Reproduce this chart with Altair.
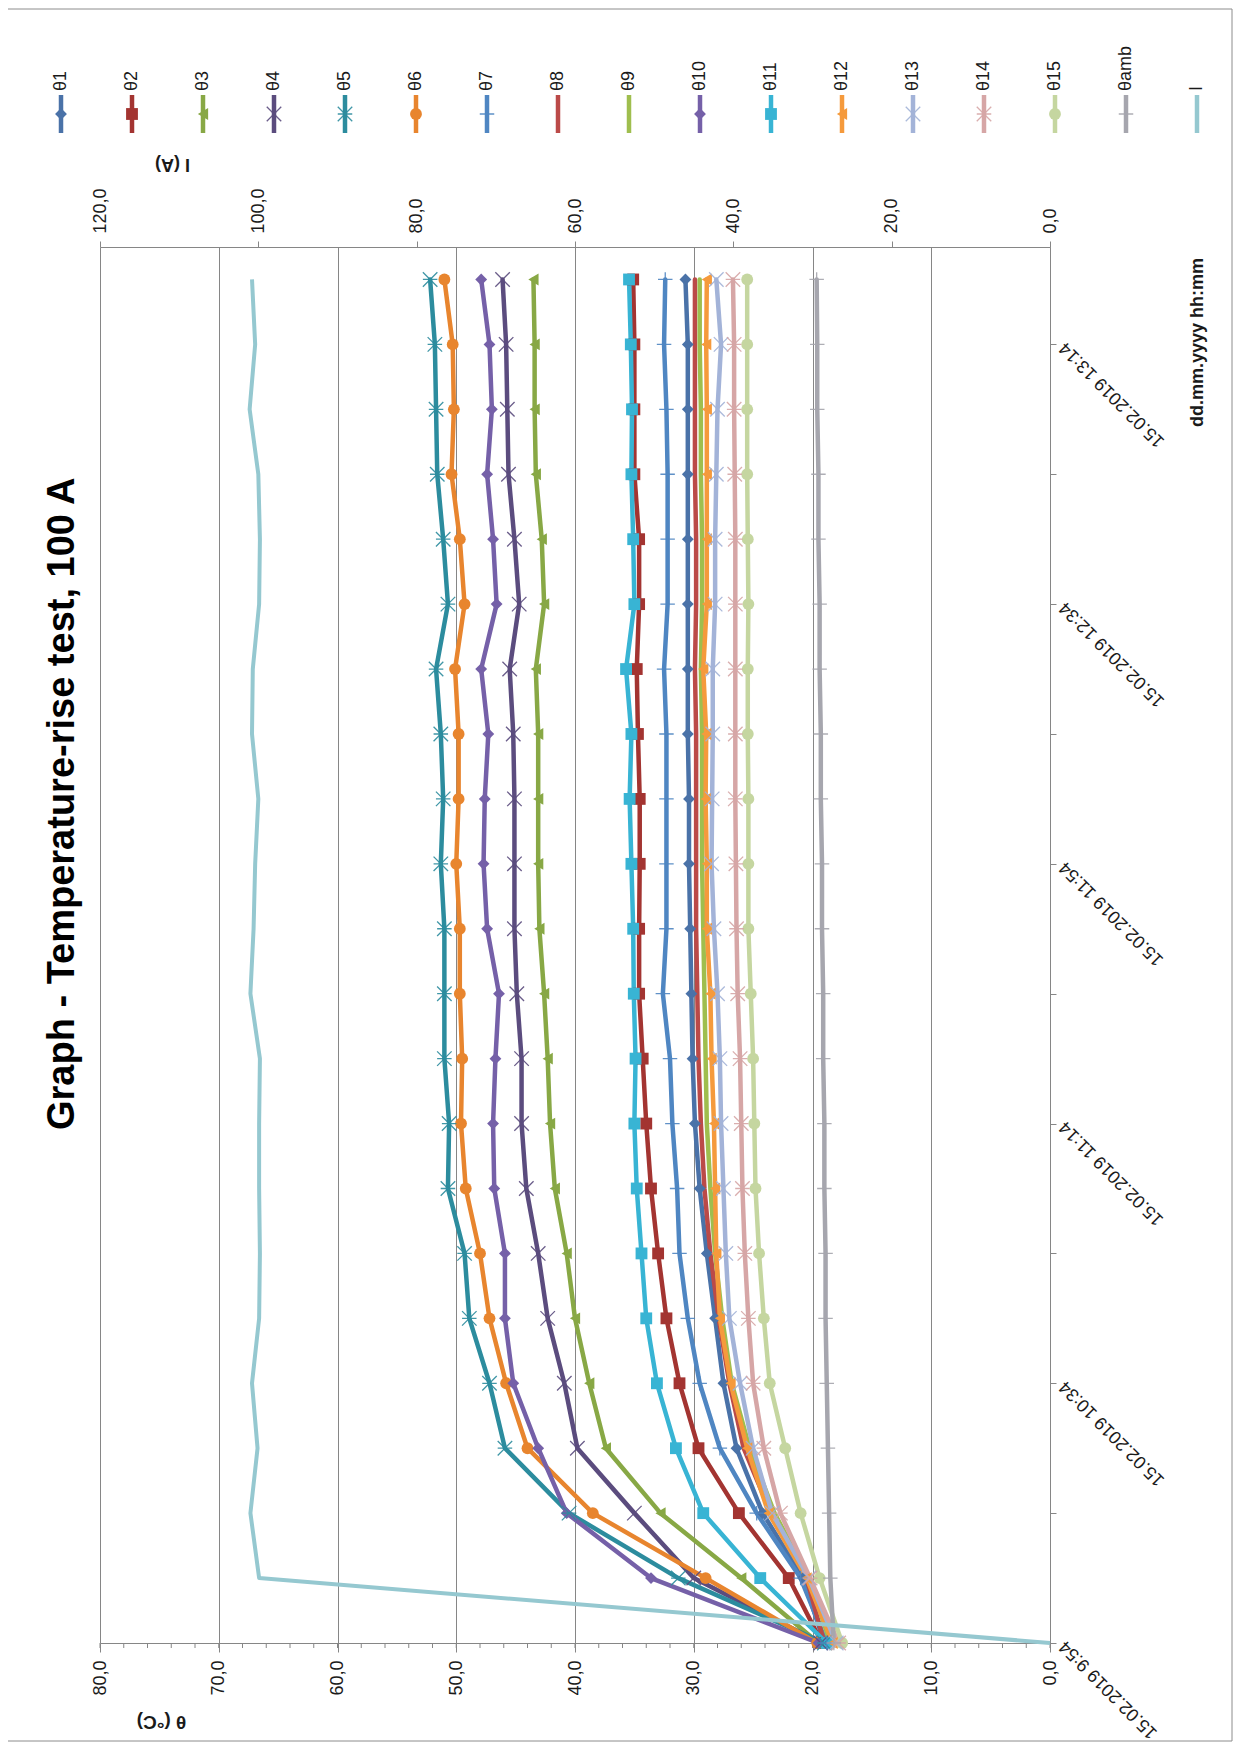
import altair as alt
import pandas as pd

TITLE = "Graph - Temperature-rise test, 100 A"

TIMES = ["9:54", "10:04", "10:14", "10:24", "10:34", "10:44", "10:54", "11:04",
         "11:14", "11:24", "11:34", "11:44", "11:54", "12:04", "12:14", "12:24",
         "12:34", "12:44", "12:54", "13:04", "13:14", "13:24"]
TIME_TICKS = [0, 20, 40, 60, 80, 100, 120, 140, 160, 180, 200]
TIME_TICK_LABELS = ["15.02.2019 9:54", "15.02.2019 10:34", "15.02.2019 11:14",
                    "15.02.2019 11:54", "15.02.2019 12:34", "15.02.2019 13:14"]
THETA_TICKS = [0, 10, 20, 30, 40, 50, 60, 70, 80]
THETA_MINOR = [0, 2, 4, 6, 8, 10, 12, 14, 16, 18, 20, 22, 24, 26, 28, 30, 32, 34, 36, 38, 40,
               42, 44, 46, 48, 50, 52, 54, 56, 58, 60, 62, 64, 66, 68, 70, 72, 74, 76, 78, 80]
I_TICKS = [0, 20, 40, 60, 80, 100, 120]

SERIES = ["θ1", "θ2", "θ3", "θ4", "θ5", "θ6", "θ7", "θ8", "θ9", "θ10",
          "θ11", "θ12", "θ13", "θ14", "θ15", "θamb"]

T1 = [19.0, 20.8, 24.2, 26.4, 27.5, 28.2, 28.9, 29.5, 29.9, 30.1, 30.2, 30.3, 30.4, 30.4, 30.5, 30.5, 30.5, 30.5, 30.5, 30.5, 30.5, 30.7]
T2 = [19.2, 22.0, 26.2, 29.6, 31.2, 32.3, 33.0, 33.6, 34.0, 34.3, 34.6, 34.6, 34.55, 34.55, 34.7, 34.8, 34.6, 34.6, 35.0, 35.0, 35.0, 35.1]
T3 = [19.5, 26.0, 32.8, 37.4, 38.8, 40.0, 40.7, 41.7, 42.1, 42.3, 42.6, 43.0, 43.1, 43.1, 43.1, 43.3, 42.6, 42.8, 43.3, 43.4, 43.4, 43.5]
T4 = [19.3, 30.0, 35.0, 39.8, 40.9, 42.3, 43.1, 44.1, 44.5, 44.5, 44.9, 45.1, 45.1, 45.1, 45.2, 45.5, 44.7, 45.1, 45.6, 45.7, 45.8, 46.1]
T5 = [19.0, 31.3, 40.5, 45.9, 47.2, 48.9, 49.3, 50.7, 50.6, 51.0, 51.0, 51.0, 51.3, 51.1, 51.3, 51.7, 50.7, 51.1, 51.6, 51.7, 51.8, 52.2]
T6 = [19.6, 29.0, 38.5, 44.0, 45.8, 47.2, 48.0, 49.2, 49.6, 49.5, 49.7, 49.7, 50.0, 49.8, 49.8, 50.1, 49.3, 49.7, 50.4, 50.2, 50.3, 51.0]
T7 = [18.8, 21.0, 24.7, 27.8, 29.5, 30.5, 31.2, 31.4, 31.8, 32.0, 32.6, 32.3, 32.3, 32.3, 32.3, 32.5, 32.2, 32.2, 32.2, 32.3, 32.5, 32.4]
T8 = [19.0, 20.5, 23.5, 25.8, 27.0, 27.9, 28.6, 29.1, 29.4, 29.6, 29.7, 29.8, 29.8, 29.8, 29.8, 29.9, 29.8, 29.8, 29.9, 29.9, 29.9, 29.9]
T9 = [18.5, 20.3, 23.2, 25.3, 26.8, 27.6, 28.2, 28.6, 28.9, 29.0, 29.1, 29.2, 29.3, 29.3, 29.3, 29.4, 29.3, 29.3, 29.4, 29.4, 29.5, 29.5]
T10 = [19.5, 33.6, 40.7, 43.1, 45.2, 45.9, 45.9, 46.8, 46.9, 46.7, 46.4, 47.4, 47.7, 47.6, 47.3, 47.9, 46.6, 46.9, 47.4, 47.0, 47.2, 47.9]
T11 = [18.8, 24.4, 29.2, 31.5, 33.1, 34.0, 34.4, 34.8, 35.0, 34.9, 35.05, 35.1, 35.25, 35.4, 35.25, 35.7, 35.0, 35.1, 35.25, 35.2, 35.3, 35.45]
T12 = [18.3, 20.5, 23.7, 25.5, 26.9, 27.8, 28.1, 28.2, 28.3, 28.5, 28.6, 28.9, 28.9, 29.0, 28.95, 29.2, 28.9, 28.9, 28.9, 28.9, 28.95, 28.9]
T13 = [18.0, 20.3, 23.4, 25.0, 26.1, 27.0, 27.3, 27.5, 27.7, 27.8, 28.0, 28.3, 28.5, 28.45, 28.4, 28.4, 28.2, 28.2, 28.1, 28.0, 27.7, 28.1]
T14 = [17.8, 20.2, 22.7, 24.1, 25.0, 25.4, 25.7, 25.9, 26.0, 26.1, 26.3, 26.4, 26.45, 26.5, 26.5, 26.5, 26.5, 26.5, 26.55, 26.6, 26.6, 26.7]
T15 = [17.5, 19.4, 21.0, 22.3, 23.6, 24.1, 24.5, 24.8, 24.9, 25.0, 25.2, 25.4, 25.4, 25.4, 25.45, 25.45, 25.4, 25.45, 25.5, 25.5, 25.5, 25.5]
TAMB = [18.2, 18.5, 18.6, 18.7, 18.8, 18.9, 18.9, 19.0, 19.0, 19.1, 19.1, 19.2, 19.2, 19.3, 19.3, 19.4, 19.4, 19.5, 19.5, 19.6, 19.6, 19.65]
CURRENT = [0.0, 99.9, 101.0, 100.1, 100.8, 99.9, 99.8, 99.9, 99.9, 99.8, 101.0, 100.6, 100.4, 100.0, 100.8, 100.7, 99.9, 99.8, 100.0, 101.1, 100.4, 100.8]

VALUES = [T1, T2, T3, T4, T5, T6, T7, T8, T9, T10, T11, T12, T13, T14, T15, TAMB]

COLORS = ["#4A72A8", "#A33431", "#88A845", "#5B4C7E", "#2C8C9E", "#E8852E",
          "#4F86C2", "#BB4A48", "#9FBE4E", "#7560A8", "#38B4D4", "#F59A3C",
          "#A3B3D8", "#D6A6A6", "#C5D6A0", "#A6A6AE", "#95C8D0"]

# marker styles (rotated chart)
XMARK = "M-1,-1L1,1M-1,1L1,-1"
AST = "M-1,-1L1,1M-1,1L1,-1M-1,0L1,0"
PLUS = "M-1,0L1,0M0,-1L0,1"
MARKERS = ["diamond", "square", "triangle-left", XMARK, AST, "circle", PLUS, "", "",
           "diamond", "square", "triangle-left", XMARK, AST, "circle", PLUS]

FONT = "Liberation Sans"
GRAY = "#868686"
TXT = "#1a1a1a"
W, H = 950, 1396

ALL = SERIES + ["I"]
start = 9 * 60 + 54
minutes = [int(s.split(":")[0]) * 60 + int(s.split(":")[1]) - start for s in TIMES]

rows = []
for s, vals in zip(SERIES, VALUES):
    for t, v in zip(minutes, vals):
        rows.append({"series": s, "t": t, "value": v})
df = pd.DataFrame(rows)
df_i = pd.DataFrame({"series": ["I"] * len(minutes), "t": minutes, "I": CURRENT})
df_leg = pd.DataFrame({"series": ALL})

FILLED_SHAPES = ("diamond", "square", "triangle-left", "circle")
FILLED = [s for s, m in zip(SERIES, MARKERS) if m in FILLED_SHAPES]
STROKED = [s for s, m in zip(SERIES, MARKERS) if m and m not in FILLED_SHAPES]
SHAPE_DOMAIN = FILLED + STROKED
SHAPE_RANGE = [MARKERS[SERIES.index(s)] for s in SHAPE_DOMAIN]

color_enc = alt.Color("series:N", scale=alt.Scale(domain=ALL, range=COLORS), legend=None)
shape_enc = alt.Shape("series:N", scale=alt.Scale(domain=SHAPE_DOMAIN, range=SHAPE_RANGE), legend=None)

comma_fmt = "replace(format(datum.value, '.1f'), '.', ',')"
time_js = "[" + ",".join("'%s'" % s for s in TIME_TICK_LABELS) + "]"
time_expr = "datum.value % 40 == 0 ? " + time_js + "[datum.value / 40] : ''"

axis_theta = alt.Axis(
    orient="bottom", values=THETA_TICKS, labelExpr=comma_fmt, labelAngle=270,
    labelAlign="right", labelBaseline="middle", labelPadding=8, labelFlush=False,
    labelOverlap=False, labelFontSize=18, labelColor=TXT, tickSize=9, tickColor=GRAY,
    domainColor=GRAY, grid=True, gridColor=GRAY, gridOpacity=1, gridWidth=1,
    title="θ (°C)", titleAngle=180, titleX=61, titleY=78, titleAlign="center",
    titleBaseline="middle", titleFontSize=19, titleFontWeight="bold", titleColor=TXT)

axis_time = alt.Axis(
    orient="right", values=TIME_TICKS, labelExpr=time_expr, labelAngle=225,
    labelAlign="right", labelBaseline="middle", labelPadding=6, labelFlush=False,
    labelOverlap=False, labelFontSize=18, labelColor=TXT, tickSize=6, tickColor=GRAY,
    domainColor=GRAY, grid=False,
    title="dd.mm.yyyy hh:mm", titleAngle=270, titleX=147, titleY=95, titleAlign="center",
    titleBaseline="middle", titleFontSize=18, titleFontWeight="bold", titleColor=TXT)

axis_i = alt.Axis(
    orient="top", values=I_TICKS, labelExpr=comma_fmt, labelAngle=270,
    labelAlign="left", labelBaseline="middle", labelPadding=8, labelFlush=False,
    labelOverlap=False, labelFontSize=18, labelColor=TXT, tickSize=6, tickColor=GRAY,
    domainColor=GRAY, grid=False,
    title="I (A)", titleAngle=180, titleX=72, titleY=-84, titleAlign="center",
    titleBaseline="middle", titleFontSize=18, titleFontWeight="bold", titleColor=TXT)

x_theta = alt.X("value:Q", scale=alt.Scale(domain=[0, 80], reverse=True, nice=False, zero=False),
                axis=axis_theta)
y_time = alt.Y("t:Q", scale=alt.Scale(domain=[0, 215], nice=False, zero=False), axis=axis_time)
x_i = alt.X("I:Q", scale=alt.Scale(domain=[0, 120], reverse=True, nice=False, zero=False),
            axis=axis_i)
x_leg = alt.X("series:N", scale=alt.Scale(type="point", domain=ALL, range=[-39, 1097], padding=0),
              axis=None)

frame = alt.Chart(pd.DataFrame({"k": [0]})).mark_rect(
    fill="transparent", stroke="#8c8c8c", strokeWidth=1
).encode(x=alt.value(-93), x2=alt.value(1132), y=alt.value(-238), y2=alt.value(1494))

title = alt.Chart(pd.DataFrame({"t": [TITLE]})).mark_text(
    angle=270, align="left", baseline="middle", fontSize=38, fontWeight="bold",
    font=FONT, color="#000000"
).encode(text="t:N", x=alt.value(-37), y=alt.value(883))

minor = alt.Chart(pd.DataFrame({"value": THETA_MINOR})).mark_rule(
    color=GRAY, strokeWidth=1
).encode(x=x_theta, y=alt.value(H), y2=alt.value(H + 5))

lines = alt.Chart(df).mark_line(strokeWidth=4.5, strokeJoin="round", strokeCap="round").encode(
    x=x_theta, y=y_time, color=color_enc, order="t:Q")

pts_f = alt.Chart(df).transform_filter(
    alt.FieldOneOfPredicate(field="series", oneOf=FILLED)
).mark_point(filled=True, size=140, opacity=1).encode(
    x=x_theta, y=y_time, color=color_enc, shape=shape_enc)

pts_s = alt.Chart(df).transform_filter(
    alt.FieldOneOfPredicate(field="series", oneOf=STROKED)
).mark_point(filled=False, size=210, strokeWidth=1.3, opacity=0.9).encode(
    x=x_theta, y=y_time, color=color_enc, shape=shape_enc)

theta_layer = alt.layer(frame, title, minor, lines, pts_f, pts_s)

i_line = alt.Chart(df_i).mark_line(strokeWidth=4, strokeJoin="round").encode(
    x=x_i, y=y_time, color=color_enc, order="t:Q")

leg_rule = alt.Chart(df_leg).mark_rule(strokeWidth=4.5).encode(
    x=x_leg, y=alt.value(-152), y2=alt.value(-114), color=color_enc)
leg_pf = alt.Chart(df_leg).transform_filter(
    alt.FieldOneOfPredicate(field="series", oneOf=FILLED)
).mark_point(filled=True, size=140, opacity=1).encode(
    x=x_leg, y=alt.value(-133), color=color_enc, shape=shape_enc)
leg_ps = alt.Chart(df_leg).transform_filter(
    alt.FieldOneOfPredicate(field="series", oneOf=STROKED)
).mark_point(filled=False, size=210, strokeWidth=1.3, opacity=0.9).encode(
    x=x_leg, y=alt.value(-133), color=color_enc, shape=shape_enc)
leg_text = alt.Chart(df_leg).mark_text(
    angle=270, align="left", baseline="middle", fontSize=18, font=FONT, color=TXT
).encode(x=x_leg, y=alt.value(-156), text="series:N")

legend_layer = alt.layer(leg_rule, leg_pf, leg_ps, leg_text)

chart = alt.layer(theta_layer, i_line, legend_layer).resolve_scale(
    x="independent"
).properties(
    width=W, height=H,
    padding={"left": 92, "top": 239, "right": 184, "bottom": 100},
    autosize=alt.AutoSizeParams(type="none"),
    background="white",
).configure_view(stroke=None).configure_axis(labelFont=FONT, titleFont=FONT).configure_text(font=FONT)

chart.save("out.html", embed_options={"renderer": "svg", "actions": False})
